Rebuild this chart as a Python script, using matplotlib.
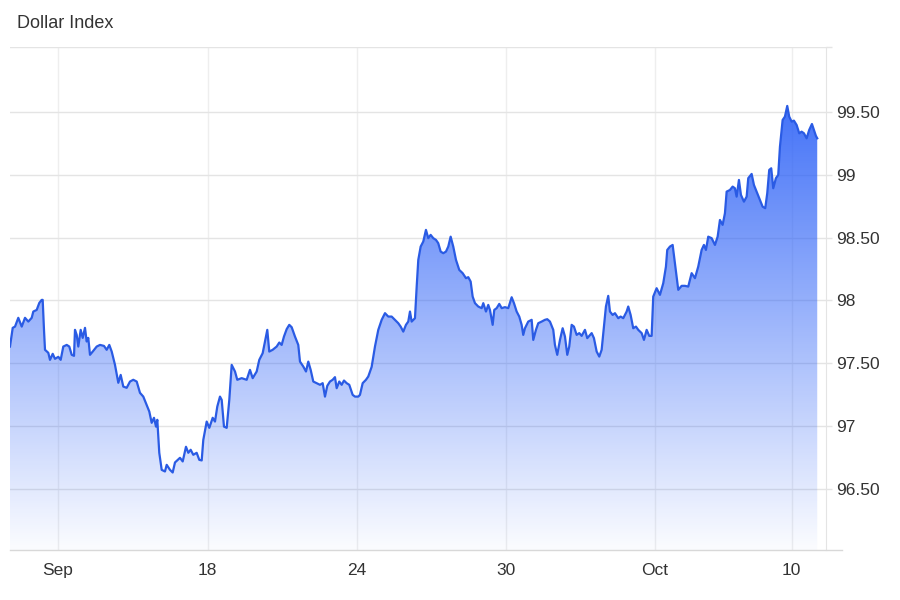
import numpy as np
import matplotlib.pyplot as plt
from matplotlib.patches import Polygon

plt.rcParams['font.family'] = ['Liberation Sans', 'DejaVu Sans']

# trading-day position (0 = "Sep" tick) and index level
t = [-1.289, -1.216, -1.154, -1.066, -0.974, -0.886, -0.797, -0.706, -0.663, -0.572,
     -0.502, -0.438, -0.411, -0.376, -0.349, -0.260, -0.215, -0.142, -0.081, 0.008,
     0.072, 0.142, 0.234, 0.303, 0.368, 0.430, 0.456, 0.502, 0.545, 0.609,
     0.663, 0.725, 0.770, 0.813, 0.859, 0.932, 1.039, 1.128, 1.235, 1.307,
     1.377, 1.442, 1.530, 1.619, 1.683, 1.753, 1.844, 1.933, 2.021, 2.113,
     2.201, 2.290, 2.381, 2.451, 2.515, 2.577, 2.631, 2.666, 2.719, 2.784,
     2.872, 2.918, 3.007, 3.079, 3.141, 3.275, 3.348, 3.436, 3.498, 3.562,
     3.632, 3.723, 3.793, 3.858, 3.901, 3.992, 4.062, 4.153, 4.215, 4.277,
     4.349, 4.395, 4.456, 4.529, 4.599, 4.663, 4.752, 4.813, 4.931, 5.066,
     5.154, 5.227, 5.334, 5.404, 5.495, 5.557, 5.619, 5.672, 5.763, 5.871,
     5.941, 6.005, 6.067, 6.140, 6.209, 6.274, 6.362, 6.451, 6.497, 6.585,
     6.658, 6.720, 6.784, 6.854, 6.945, 7.034, 7.106, 7.168, 7.230, 7.302,
     7.374, 7.436, 7.482, 7.552, 7.616, 7.678, 7.750, 7.820, 7.911, 7.973,
     8.062, 8.107, 8.180, 8.268, 8.330, 8.421, 8.510, 8.599, 8.690, 8.779,
     8.867, 8.958, 9.047, 9.136, 9.200, 9.270, 9.342, 9.404, 9.450, 9.495,
     9.584, 9.630, 9.673, 9.737, 9.807, 9.879, 9.941, 10.005, 10.075, 10.148,
     10.209, 10.274, 10.344, 10.416, 10.478, 10.542, 10.612, 10.685, 10.773, 10.864,
     10.953, 11.015, 11.079, 11.133, 11.195, 11.283, 11.375, 11.418, 11.490, 11.552,
     11.597, 11.670, 11.713, 11.777, 11.847, 11.912, 12.000, 12.089, 12.180, 12.242,
     12.314, 12.384, 12.448, 12.491, 12.537, 12.625, 12.717, 12.760, 12.832, 12.894,
     12.985, 13.074, 13.136, 13.208, 13.297, 13.342, 13.404, 13.477, 13.549, 13.611,
     13.673, 13.726, 13.791, 13.852, 13.925, 13.995, 14.059, 14.148, 14.210, 14.328,
     14.389, 14.462, 14.532, 14.596, 14.658, 14.711, 14.773, 14.819, 14.891, 14.953,
     15.042, 15.106, 15.176, 15.267, 15.310, 15.374, 15.444, 15.517, 15.579, 15.670,
     15.732, 15.804, 15.874, 15.938, 15.981, 16.072, 16.161, 16.250, 16.322, 16.357,
     16.430, 16.502, 16.564, 16.653, 16.744, 16.832, 16.921, 17.012, 17.101, 17.189,
     17.280, 17.342, 17.396, 17.458, 17.549, 17.638, 17.710, 17.772, 17.844, 17.906,
     17.952, 18.040, 18.113, 18.174, 18.220, 18.282, 18.336, 18.416, 18.489, 18.532,
     18.623, 18.685, 18.757, 18.827, 18.918, 18.988, 19.042, 19.095, 19.149, 19.203,
     19.275, 19.337, 19.383, 19.455, 19.517, 19.579, 19.632, 19.697, 19.758, 19.831,
     19.901, 19.965, 20.027, 20.099, 20.169, 20.242, 20.295, 20.349, 20.384]

dxy = [97.632, 97.781, 97.791, 97.861, 97.791, 97.861, 97.831, 97.861, 97.911, 97.924,
       97.980, 98.004, 98.004, 97.765, 97.606, 97.582, 97.526, 97.574, 97.534, 97.550,
       97.526, 97.632, 97.645, 97.632, 97.566, 97.558, 97.765, 97.725, 97.632, 97.765,
       97.701, 97.781, 97.672, 97.701, 97.566, 97.592, 97.632, 97.645, 97.637, 97.606,
       97.645, 97.592, 97.486, 97.343, 97.406, 97.313, 97.303, 97.353, 97.367, 97.353,
       97.263, 97.233, 97.167, 97.114, 97.024, 97.064, 96.994, 97.048, 96.785, 96.649,
       96.636, 96.689, 96.649, 96.628, 96.708, 96.745, 96.716, 96.833, 96.785, 96.809,
       96.769, 96.785, 96.729, 96.724, 96.888, 97.034, 96.984, 97.064, 97.034, 97.154,
       97.233, 97.207, 96.994, 96.984, 97.207, 97.486, 97.433, 97.367, 97.380, 97.367,
       97.446, 97.380, 97.433, 97.526, 97.579, 97.672, 97.765, 97.592, 97.606, 97.632,
       97.664, 97.645, 97.712, 97.771, 97.805, 97.786, 97.712, 97.645, 97.512, 97.473,
       97.433, 97.512, 97.446, 97.353, 97.340, 97.327, 97.340, 97.233, 97.319, 97.353,
       97.367, 97.388, 97.300, 97.353, 97.327, 97.361, 97.340, 97.327, 97.247, 97.233,
       97.233, 97.247, 97.340, 97.367, 97.393, 97.470, 97.632, 97.765, 97.845, 97.898,
       97.871, 97.871, 97.845, 97.818, 97.791, 97.751, 97.805, 97.831, 97.911, 97.831,
       97.858, 98.110, 98.323, 98.429, 98.469, 98.562, 98.496, 98.522, 98.496, 98.482,
       98.456, 98.389, 98.376, 98.389, 98.429, 98.508, 98.429, 98.323, 98.243, 98.217,
       98.177, 98.185, 98.150, 98.030, 97.978, 97.951, 97.938, 97.978, 97.911, 97.964,
       97.924, 97.805, 97.924, 97.938, 97.972, 97.938, 97.946, 97.938, 98.025, 97.978,
       97.911, 97.871, 97.805, 97.725, 97.778, 97.831, 97.845, 97.685, 97.765, 97.818,
       97.831, 97.845, 97.850, 97.831, 97.765, 97.645, 97.566, 97.685, 97.778, 97.712,
       97.566, 97.632, 97.805, 97.791, 97.725, 97.739, 97.717, 97.765, 97.699, 97.739,
       97.699, 97.592, 97.552, 97.606, 97.791, 97.951, 98.036, 97.911, 97.884, 97.898,
       97.858, 97.871, 97.858, 97.911, 97.951, 97.884, 97.778, 97.791, 97.765, 97.739,
       97.685, 97.765, 97.717, 97.717, 98.030, 98.097, 98.044, 98.137, 98.269, 98.402,
       98.429, 98.442, 98.296, 98.084, 98.116, 98.116, 98.110, 98.217, 98.177, 98.269,
       98.402, 98.442, 98.402, 98.508, 98.496, 98.442, 98.508, 98.641, 98.602, 98.695,
       98.867, 98.880, 98.907, 98.894, 98.827, 98.960, 98.841, 98.787, 98.827, 98.974,
       99.008, 98.920, 98.867, 98.814, 98.747, 98.735, 98.854, 99.040, 99.053, 98.894,
       98.974, 99.000, 99.225, 99.438, 99.465, 99.550, 99.465, 99.425, 99.433, 99.398,
       99.332, 99.345, 99.332, 99.292, 99.359, 99.406, 99.359, 99.311, 99.292]

x_tick_pos = [0, 4.02, 8.02, 12.02, 16.02, 19.7]
x_tick_labels = ['Sep', '18', '24', '30', 'Oct', '10']
y_ticks = [96.5, 97, 97.5, 98, 98.5, 99, 99.5, 100.02]
y_tick_labels = ['96.50', '97', '97.50', '98', '98.50', '99', '99.50', '']

ymin, ymax = 96.01, 100.02
xmax = 20.62
grid_c = '#e4e4e4'

fig = plt.figure(figsize=(9, 6), dpi=100)
ax = fig.add_axes([0.0111, 0.0833, 0.9067, 0.8384])

# gradient fill under the line
blue = (0.17, 0.38, 0.97)
grad = np.zeros((256, 1, 4))
grad[..., :3] = blue
grad[:, 0, 3] = np.linspace(1.0, 0.02, 256)
im = ax.imshow(grad, extent=[t[0], t[-1], ymin, ymax], aspect='auto',
               origin='upper', zorder=1, interpolation='bilinear')
verts = [(t[0], ymin)] + list(zip(t, dxy)) + [(t[-1], ymin)]
poly = Polygon(verts, closed=True, facecolor='none', edgecolor='none')
ax.add_patch(poly)
im.set_clip_path(poly)

ax.plot(t, dxy, color='#2a5be4', lw=1.6, zorder=3, solid_joinstyle='round')

ax.set_xlim(t[0], xmax)
ax.set_ylim(ymin, ymax)

ax.yaxis.tick_right()
ax.set_yticks(y_ticks)
ax.set_yticklabels(y_tick_labels)
ax.set_xticks(x_tick_pos)
ax.set_xticklabels(x_tick_labels)

ax.grid(axis='y', color=grid_c, lw=1)
ax.grid(axis='x', color='#eeeeee', lw=1)
ax.set_axisbelow(True)
ax.tick_params(axis='y', length=4.5, width=1, color=grid_c, labelsize=12.5,
               labelcolor='#333333', pad=3)
ax.tick_params(axis='x', length=0, labelsize=12.5, labelcolor='#333333', pad=9.5)

for s in ['left', 'top']:
    ax.spines[s].set_visible(False)
ax.spines['right'].set_color(grid_c)
ax.spines['bottom'].set_visible(False)
ax.plot([0, 1.0196], [0, 0], transform=ax.transAxes, color='#d8d8d8',
        lw=1, clip_on=False, zorder=4)

fig.text(17 / 900, 0.96, 'Dollar Index', fontsize=13, color='#333333', va='center')

fig.savefig('out.png', dpi=100)
